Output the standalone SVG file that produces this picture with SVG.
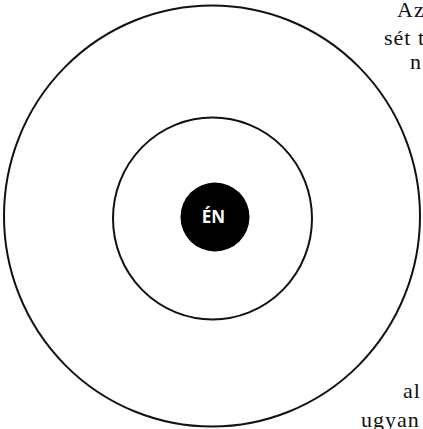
<svg xmlns="http://www.w3.org/2000/svg" width="423" height="429" viewBox="0 0 423 429">
<style>
.ring{fill:none;stroke:#111;stroke-width:2}
.page{font-family:"Liberation Serif","Times New Roman",serif;font-size:22px;letter-spacing:1px;fill:#111}
.lbl{font-family:"Open Sans","DejaVu Sans",sans-serif;font-weight:700;font-size:17px;fill:#fff}
</style>
<rect width="423" height="429" fill="#fff"/>
<g id="outer"><ellipse class="ring" cx="212" cy="216" rx="208" ry="210.5"/></g>
<g id="inner"><ellipse class="ring" cx="212.5" cy="218.5" rx="99.5" ry="101"/></g>
<g id="en">
<circle cx="215" cy="217" r="34.5" fill="#000"/>
<text class="lbl" x="213.5" y="223" text-anchor="middle">ÉN</text>
</g>
<g id="connectors"></g>
<g id="pagetext">
<text class="page" x="397" y="17">Az</text>
<text class="page" x="384" y="45">sét t</text>
<text class="page" x="410" y="69">n</text>
<text class="page" x="403" y="398">al</text>
<text class="page" x="361" y="427">ugyan</text>
</g>
</svg>
